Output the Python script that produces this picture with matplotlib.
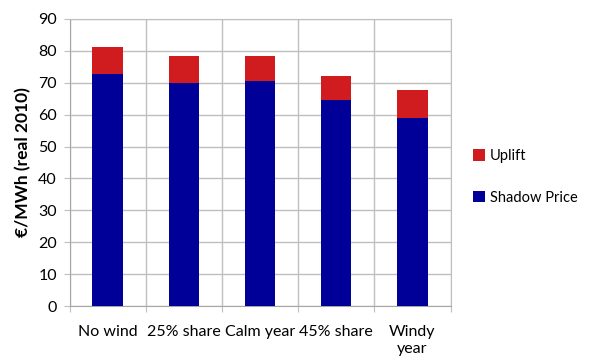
import matplotlib
matplotlib.use("Agg")
import matplotlib.pyplot as plt
import numpy as np

categories = ["No wind", "25% share", "Calm year", "45% share", "Windy\nyear"]
shadow_price = [72.7, 70.0, 70.5, 64.7, 59.0]
uplift = [8.5, 8.3, 7.8, 7.4, 8.7]

blue = "#000099"
red = "#D01C1F"
grid_c = "#BFBFBF"

plt.rcParams["font.family"] = ["Lato", "DejaVu Sans"]

fig = plt.figure(figsize=(5.91, 3.60), dpi=100)
ax = fig.add_axes([69.5 / 591, 1 - 306 / 360, (450.5 - 69.5) / 591, (306 - 19) / 360])

x = np.arange(len(categories))
ax.bar(x, shadow_price, width=0.4, color=blue, label="Shadow Price", zorder=3)
ax.bar(x, uplift, width=0.4, bottom=shadow_price, color=red, label="Uplift", zorder=3)

ax.set_xlim(-0.5, len(categories) - 0.5)
ax.set_ylim(0, 90)
ax.set_yticks(np.arange(0, 91, 10))
ax.set_xticks(np.arange(-0.5, len(categories), 1.0))
ax.set_xticklabels([])
ax.set_xticks(x, minor=True)
ax.set_xticklabels(categories, minor=True, fontsize=11.5, linespacing=1.25)
ax.tick_params(axis="x", which="minor", length=0, pad=14)
ax.tick_params(axis="x", which="major", length=4, color=grid_c, direction="out")
ax.tick_params(axis="y", length=4, color=grid_c, labelsize=11.5, pad=5)

ax.grid(True, which="major", color=grid_c, linewidth=1.0, zorder=0)
for side in ["top", "right"]:
    ax.spines[side].set_color(grid_c)
for side in ["left", "bottom"]:
    ax.spines[side].set_color("#A6A6A6")

ax.set_ylabel("€/MWh (real 2010)", fontsize=12.5, fontweight="bold", labelpad=5)

handles, labels = ax.get_legend_handles_labels()
fig.legend(handles[::-1], labels[::-1], loc="center left",
           bbox_to_anchor=(473 / 591, 1 - 177 / 360), frameon=False,
           borderpad=0, borderaxespad=0,
           fontsize=10.5, handlelength=0.8, handleheight=0.8,
           handletextpad=0.35, labelspacing=1.9)

fig.savefig("out.png", dpi=100)
